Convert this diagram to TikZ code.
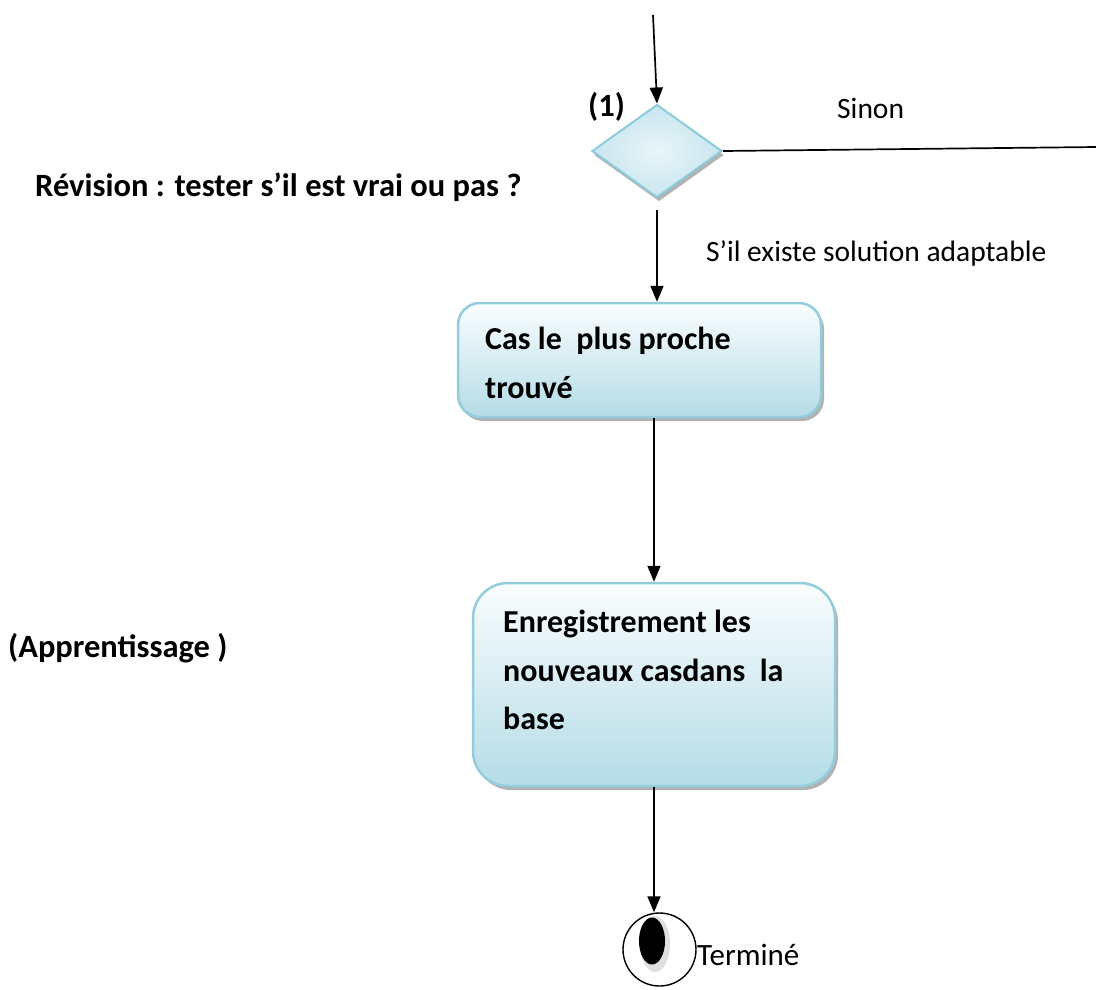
\documentclass[tikz,border=0pt]{standalone}
\usepackage{fontspec}
\setmainfont{Carlito}
\usetikzlibrary{shapes.geometric,arrows.meta,shadows}

\definecolor{boxtop}{HTML}{FAFDFE}
\definecolor{boxbot}{HTML}{B4DCE7}
\definecolor{boxedge}{HTML}{93CDDC}
\definecolor{diafill}{HTML}{C8E6EF}
\definecolor{diaedge}{HTML}{8DCBDA}

\begin{document}
\begin{tikzpicture}
  [x=1pt,y=-1pt,
   every node/.style={inner sep=0pt,font=\fontsize{29.5}{48}\selectfont},
   label/.style={anchor=west},
   boldlabel/.style={anchor=west,font=\fontsize{32.5}{48}\selectfont\bfseries},
   actbox/.style={draw=boxedge,line width=2.5pt,rounded corners=22pt,
     top color=boxtop,bottom color=boxbot,
     drop shadow={shadow xshift=3pt,shadow yshift=-4pt,fill=gray!60,opacity=1}},
   acttext/.style={anchor=north west,align=left,font=\fontsize{32}{48.5}\selectfont\bfseries},
   choice/.style={diamond,draw=diaedge,line width=2pt,
     inner color=diafill!40,outer color=diafill,
     minimum width=130pt,minimum height=93pt,
     drop shadow={shadow xshift=2pt,shadow yshift=-4pt,fill=gray!60,opacity=1}},
   arr/.style={line width=1.7pt,-{Triangle[length=16pt,width=13pt]}}]

  \useasboundingbox (0,0) rectangle (1096,989);

  \coordinate (start) at (653,15);
  \coordinate (sinonend) at (1096,147);

  \node[choice] (dia) at (657,151) {};
  \node[actbox,minimum width=363pt,minimum height=114pt] (box1) at (639.5,360) {};
  \node[actbox,rounded corners=35pt,minimum width=362pt,minimum height=203pt] (box2) at (654,684.5) {};
  \node[draw,circle,line width=1.4pt,minimum size=73pt] (fin) at (659.5,949.5) {};
  \fill[gray!25] (655,944) ellipse [x radius=15,y radius=28];
  \fill[black] (652,941) ellipse [x radius=13,y radius=23.5];

  \node[acttext] (t1) at (485,327) {Cas le \ plus proche\\trouvé};
  \node[acttext] (t2) at (503,610) {Enregistrement les\\nouveaux casdans \ la\\base};

  \node[boldlabel] (un) at (588,107) {(1)};
  \node[label] (sinon) at (837,108) {Sinon};
  \node[boldlabel] (revision) at (35,187) {Révision : tester s’il est vrai ou pas ?};
  \node[label] (existe) at (706,253) {S’il existe solution adaptable};
  \node[boldlabel] (appr) at (8,648) {(Apprentissage )};
  \node[label,font=\fontsize{31}{40}\selectfont] (termine) at (697,955) {Terminé};

  \draw[arr] (start) -- (dia.north);
  \draw[line width=1.7pt] (dia.east) -- (sinonend);
  \draw[arr,shorten <=11pt] (dia.south) -- (dia.south |- box1.north);
  \draw[arr] (box1.south -| box2.north) -- (box2.north);
  \draw[arr] (box2.south) -- (box2.south |- fin.north);
\end{tikzpicture}
\end{document}
